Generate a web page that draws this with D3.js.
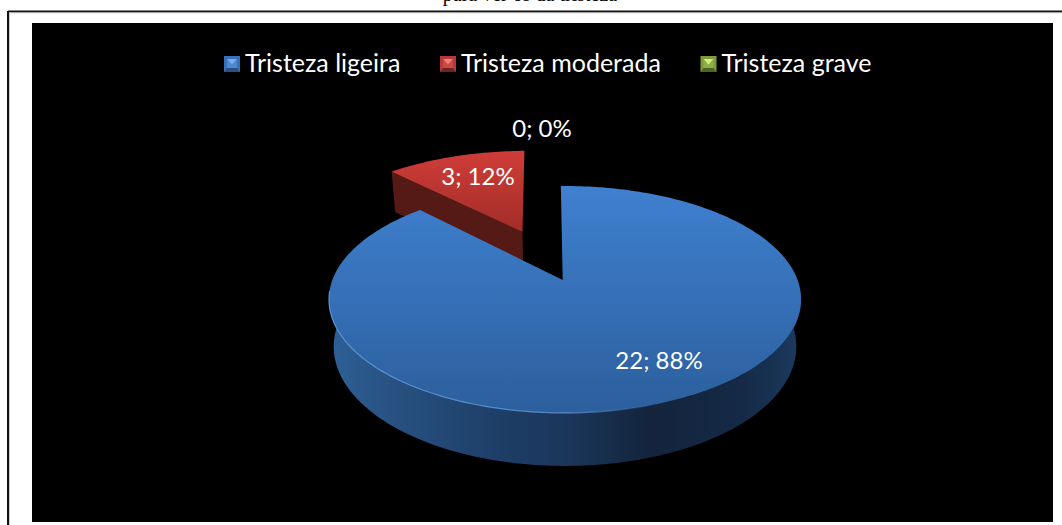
<!DOCTYPE html>
<html>
<head>
<meta charset="utf-8">
<script src="https://cdn.jsdelivr.net/npm/d3@7"></script>
<style>
  html, body { margin: 0; padding: 0; background: #fff; overflow: hidden; }
  svg { display: block; }
</style>
</head>
<body>
<svg id="chart" width="1062" height="525"></svg>
<script>
// Data
const categories = ["Tristeza ligeira", "Tristeza moderada", "Tristeza grave"];
const values = [22, 3, 0];
const percents = ["88%", "12%", "0%"];
const captionText = "para ver os da tristeza";

const svg = d3.select("#chart");
const defs = svg.append("defs");

// Page furniture: scanned document frame and the black chart area
svg.append("rect").attr("width", 1062).attr("height", 525).attr("fill", "#fff");
svg.append("text")
  .attr("x", 530).attr("y", 1)
  .attr("text-anchor", "middle")
  .style("font", "20px 'Liberation Serif'")
  .attr("fill", "#000")
  .text(captionText);
svg.append("line").attr("x1", 8).attr("x2", 1062).attr("y1", 11.5).attr("y2", 11.5)
  .attr("stroke", "#111").attr("stroke-width", 2);
svg.append("line").attr("x1", 8).attr("x2", 8).attr("y1", 11).attr("y2", 525)
  .attr("stroke", "#111").attr("stroke-width", 2);
svg.append("line").attr("x1", 9.5).attr("x2", 1062).attr("y1", 12.9).attr("y2", 12.9)
  .attr("stroke", "#ccc").attr("stroke-width", 0.8);
svg.append("line").attr("x1", 9.5).attr("x2", 9.5).attr("y1", 12.5).attr("y2", 525)
  .attr("stroke", "#ccc").attr("stroke-width", 1);
svg.append("rect").attr("x", 32).attr("y", 23).attr("width", 1021).attr("height", 499).attr("fill", "#000");

// Pie angles: the chart starts at 12 o'clock and is turned by about a degree
const rotation = -1.2 * Math.PI / 180;
const pie = d3.pie().sort(null).startAngle(rotation).endAngle(rotation + 2 * Math.PI);
const arcs = pie(values);

// Perspective view of a unit disc lying flat
const view = { cx: 565, cy: 280, a: 232.5, b: 110.1, k: 0.1718, depth: 46.1, floor: 0.98 };

function project(x, y, lower) {
  const w = 1 + view.k * y;
  const s = lower ? view.floor : 1;
  return [
    view.cx + view.a * x * s / w,
    view.cy - view.b * y * s / w + (lower ? view.depth / w : 0)
  ];
}

function rim(a0, a1, off, lower) {
  const n = Math.max(2, Math.ceil(Math.abs(a1 - a0) / 0.02));
  return d3.range(n + 1).map(i => {
    const t = a0 + (a1 - a0) * i / n;
    return project(Math.sin(t) + off[0], Math.cos(t) + off[1], lower);
  });
}

const line = d3.line();
const explodeRed = 0.51;
const bisector = d => (d.startAngle + d.endAngle) / 2;
const offs = arcs.map((d, i) => i === 1
  ? [Math.sin(bisector(d)) * explodeRed, Math.cos(bisector(d)) * explodeRed]
  : [0, 0]);

function verticalGradient(id, y0, y1, c0, c1) {
  const g = defs.append("linearGradient").attr("id", id)
    .attr("gradientUnits", "userSpaceOnUse")
    .attr("x1", 0).attr("x2", 0).attr("y1", y0).attr("y2", y1);
  g.append("stop").attr("offset", 0).attr("stop-color", c0);
  g.append("stop").attr("offset", 1).attr("stop-color", c1);
}

verticalGradient("blueTop", 186, 413, "#3f80d0", "#2c5f9c");
verticalGradient("redTop", 150, 235, "#d03d38", "#a02c28");

const wallGrad = defs.append("linearGradient").attr("id", "blueWall")
  .attr("gradientUnits", "userSpaceOnUse")
  .attr("x1", 329).attr("x2", 801).attr("y1", 0).attr("y2", 0);
[[0, "#2e6096"], [0.15, "#27507f"], [0.35, "#1e3f68"], [0.52, "#1a3558"],
 [0.68, "#13243c"], [0.88, "#152a47"], [1, "#1c3a60"]].forEach(s => {
  wallGrad.append("stop").attr("offset", s[0]).attr("stop-color", s[1]);
});

const bevelGrad = defs.append("linearGradient").attr("id", "rimBevel")
  .attr("gradientUnits", "userSpaceOnUse")
  .attr("x1", 329).attr("x2", 801).attr("y1", 0).attr("y2", 0);
[[0, 0.9], [0.5, 0.8], [0.72, 0]].forEach(s => {
  bevelGrad.append("stop").attr("offset", s[0])
    .attr("stop-color", "#5f9ae0").attr("stop-opacity", s[1]);
});

// Red slice first: it sits behind the blue one
const red = arcs[1];
const redOff = offs[1];
const redApex = project(redOff[0], redOff[1], false);
const redApexLow = project(redOff[0], redOff[1], true);
const redLeft = rim(red.startAngle, red.startAngle, redOff, false)[0];
const redLeftLow = rim(red.startAngle, red.startAngle, redOff, true)[0];

svg.append("path")
  .attr("d", line([redLeft, redApex, redApexLow, redLeftLow]) + "Z")
  .attr("fill", "#551a16");

svg.append("path")
  .attr("d", line([redApex].concat(rim(red.startAngle, red.endAngle, redOff, false))) + "Z")
  .attr("fill", "url(#redTop)");

// Blue slice: outer wall then top face
const blue = arcs[0];
const wallFrom = Math.PI / 2 - 0.25;
const wallTo = 3 * Math.PI / 2 + 0.25;
const wallPts = rim(wallFrom, wallTo, [0, 0], false)
  .concat(rim(wallTo, wallFrom, [0, 0], true));
svg.append("path")
  .attr("d", line(wallPts) + "Z")
  .attr("fill", "url(#blueWall)");

const apexShift = -2.3;
const blueApex = project(0, 0, false);
blueApex[0] += apexShift;
svg.append("path")
  .attr("d", line([blueApex].concat(rim(blue.startAngle, blue.endAngle, [0, 0], false))) + "Z")
  .attr("fill", "url(#blueTop)");

// Thin light bevel along the front of the blue rim, fading out to the right
svg.append("path")
  .attr("d", line(rim(Math.PI / 2 + 0.1, 3 * Math.PI / 2 - 0.1, [0, 0], false)))
  .attr("fill", "none")
  .attr("stroke", "url(#rimBevel)")
  .attr("stroke-width", 1.2);

// Data labels
const labelFont = "24px Lato";
const labelPos = [[659, 369], [478, 185], [542, 137]];
svg.append("g").selectAll("text")
  .data(categories)
  .join("text")
  .attr("x", (d, i) => labelPos[i][0])
  .attr("y", (d, i) => labelPos[i][1])
  .attr("text-anchor", "middle")
  .attr("fill", "#fff")
  .style("font", labelFont)
  .text((d, i) => values[i] + "; " + percents[i]);

// Legend with bevelled swatches
const legendX = [224, 440, 700.5];
const legendColors = [
  { base: "#3a70b8", top: "#74b0f0", mid: "#4d88d0", low: "#2c4f7e" },
  { base: "#b83a38", top: "#f08078", mid: "#c84a46", low: "#6e2422" },
  { base: "#7f9a3c", top: "#d4ee78", mid: "#8fad48", low: "#4f6326" }
];
const swatch = svg.append("g").selectAll("g")
  .data(categories)
  .join("g")
  .attr("transform", (d, i) => `translate(${legendX[i]},56)`);
swatch.append("rect").attr("width", 16).attr("height", 16)
  .attr("fill", (d, i) => legendColors[i].base);
swatch.append("path").attr("d", "M3,3L13,3L8,9Z")
  .attr("fill", (d, i) => legendColors[i].top);
swatch.append("path").attr("d", "M3,3L8,9L13,3L13,12L3,12Z")
  .attr("fill", (d, i) => legendColors[i].mid);
swatch.append("path").attr("d", "M0,16L3,12L13,12L16,16Z")
  .attr("fill", (d, i) => legendColors[i].low);
swatch.append("text")
  .attr("x", 21).attr("y", 16)
  .attr("fill", "#fff")
  .style("font", "25px Lato")
  .text(d => d);
</script>
</body>
</html>
